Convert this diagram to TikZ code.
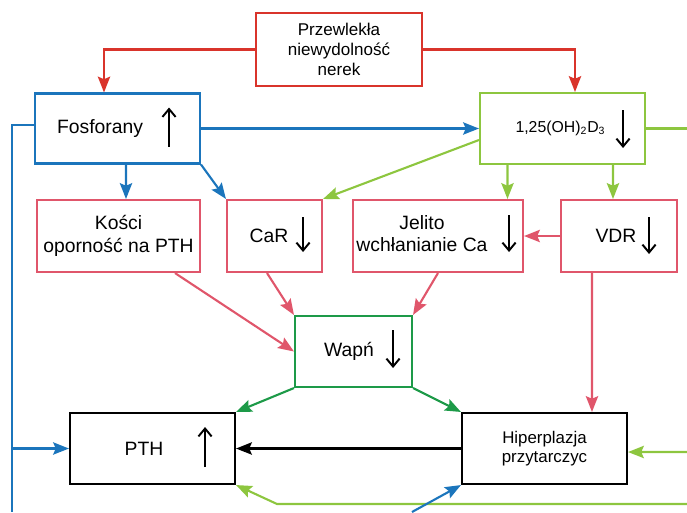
\documentclass[tikz,border=0pt]{standalone}
\usepackage{fontspec}
\setmainfont{Liberation Sans}
\usetikzlibrary{arrows.meta}

\definecolor{ckred}{HTML}{D9342B}
\definecolor{ckblue}{HTML}{1B75BC}
\definecolor{cklime}{HTML}{8DC63F}
\definecolor{ckpink}{HTML}{E0566B}
\definecolor{ckgreen}{HTML}{1D9A48}

\begin{document}
\begin{tikzpicture}[
  x=0.02cm, y=-0.02cm,
  every node/.style={font=\fontsize{11}{13}\selectfont},
  box/.style={draw=#1, line width=1.2pt, minimum height=1.42cm, align=center, inner sep=1pt},
  wire/.style={draw=#1, line width=1.2pt},
  link/.style={draw=#1, line width=1.2pt, -{Stealth[length=9pt,width=7pt,inset=1.5pt]}},
  trend/.style={line width=1.1pt, -{Straight Barb[length=4.5pt,width=7.5pt]}}
]
\useasboundingbox (0,0) rectangle (687,512);

% boxes
\node[box=ckred, minimum width=3.32cm, minimum height=1.46cm, font=\fontsize{9.7}{11.3}\selectfont] (nerek) at (339,49.5) {Przewlekła\\niewydolność\\nerek};
\node[box=ckblue, minimum width=3.3cm, minimum height=1.4cm] (fosf) at (117.5,128.5) {Fosforany\hspace{0.7cm}};
\node[box=cklime, minimum width=3.3cm] (vitd) at (562.5,128.5) {\fontsize{9}{11}\selectfont 1,25(OH)\textsubscript{2}D\textsubscript{3}\hspace{0.08cm}};
\node[box=ckpink, minimum width=3.26cm, minimum height=1.44cm] (kosci) at (118.5,236) {Kości\\oporność na PTH};
\node[box=ckpink, minimum width=1.9cm, minimum height=1.44cm] (car) at (274.5,236) {CaR\hspace{0.22cm}};
\node[box=ckpink, minimum width=3.4cm, minimum height=1.44cm] (jelito) at (438,236) {\begin{tabular}{@{}c@{}}Jelito\\wchłanianie Ca\end{tabular}\hspace{0.64cm}};
\node[box=ckpink, minimum width=2.32cm, minimum height=1.44cm] (vdr) at (619,236) {VDR\hspace{0.12cm}};
\node[box=ckgreen, minimum width=2.34cm] (wapn) at (353.5,351.5) {Wapń\hspace{0.18cm}};
\node[box=black, minimum width=3.3cm] (pth) at (152.5,448.5) {PTH\hspace{0.34cm}};
\node[box=black, minimum width=3.3cm, font=\fontsize{9.6}{10.4}\selectfont] (hiper) at (544.5,448.5) {Hiperplazja\\przytarczyc};

% up / down marks
\draw[trend] ([shift={(-32,18)}]fosf.east) -- ++(0,-39);
\draw[trend] ([shift={(-23,-18.5)}]vitd.east) -- ++(0,38);
\draw[trend] ([shift={(-20,-19)}]car.east) -- ++(0,35);
\draw[trend] ([shift={(-15,-21)}]jelito.east) -- ++(0,37);
\draw[trend] ([shift={(-29,-19)}]vdr.east) -- ++(0,37);
\draw[trend] ([shift={(-20,-21.5)}]wapn.east) -- ++(0,38);
\draw[trend] ([shift={(-31,18.5)}]pth.east) -- ++(0,-40);

% free ends at the border
\coordinate (blbot) at (12,512);
\coordinate (bluebot) at (412,512);
\coordinate (limeout) at (687,128.5);
\coordinate (limein) at (687,452);
\coordinate (limebot) at (687,504);
\coordinate (limebend) at (277,504);

% connectors
\draw[link=ckred] (nerek.west) -| ([xshift=-0.27cm]fosf.north);
\draw[link=ckred] (nerek.east) -| ([xshift=0.25cm]vitd.north);
\draw[link=ckblue] (fosf.east) -- (vitd.west);
\draw[wire=ckblue] ([yshift=0.07cm]fosf.west) -| (blbot);
\draw[link=ckblue] (blbot |- pth.west) -- (pth.west);
\draw[link=ckblue] ([xshift=0.17cm]fosf.south) -- ([xshift=0.15cm]kosci.north);
\draw[link=ckblue] (fosf.south east) -- (car.north west);
\draw[wire=cklime] (vitd.east) -- (limeout);
\draw[link=cklime] ([yshift=-0.23cm]vitd.west) -- (car.north east);
\draw[link=cklime] ([xshift=-1.1cm]vitd.south) -- ([xshift=1.39cm]jelito.north);
\draw[link=cklime] ([xshift=1.01cm]vitd.south) -- ([xshift=-0.12cm]vdr.north);
\draw[link=ckpink] (vdr.west) -- (jelito.east);
\draw[link=ckpink] ([xshift=1.13cm]kosci.south) -- (wapn.west);
\draw[link=ckpink] ([xshift=-0.15cm]car.south) -- (wapn.north west);
\draw[link=ckpink] (jelito.south) -- (wapn.north east);
\draw[link=ckpink] ([xshift=-0.54cm]vdr.south) -- ([xshift=0.95cm]hiper.north);
\draw[link=ckgreen] (wapn.south west) -- (pth.north east);
\draw[link=ckgreen] (wapn.south east) -- (hiper.north west);
\draw[link=black] (hiper.west) -- (pth.east);
\draw[link=cklime] (limein) -- ([yshift=-0.07cm]hiper.east);
\draw[link=cklime] (limebot) -- (limebend) -- (pth.south east);
\draw[link=ckblue] (bluebot) -- (hiper.south west);
\end{tikzpicture}
\end{document}
